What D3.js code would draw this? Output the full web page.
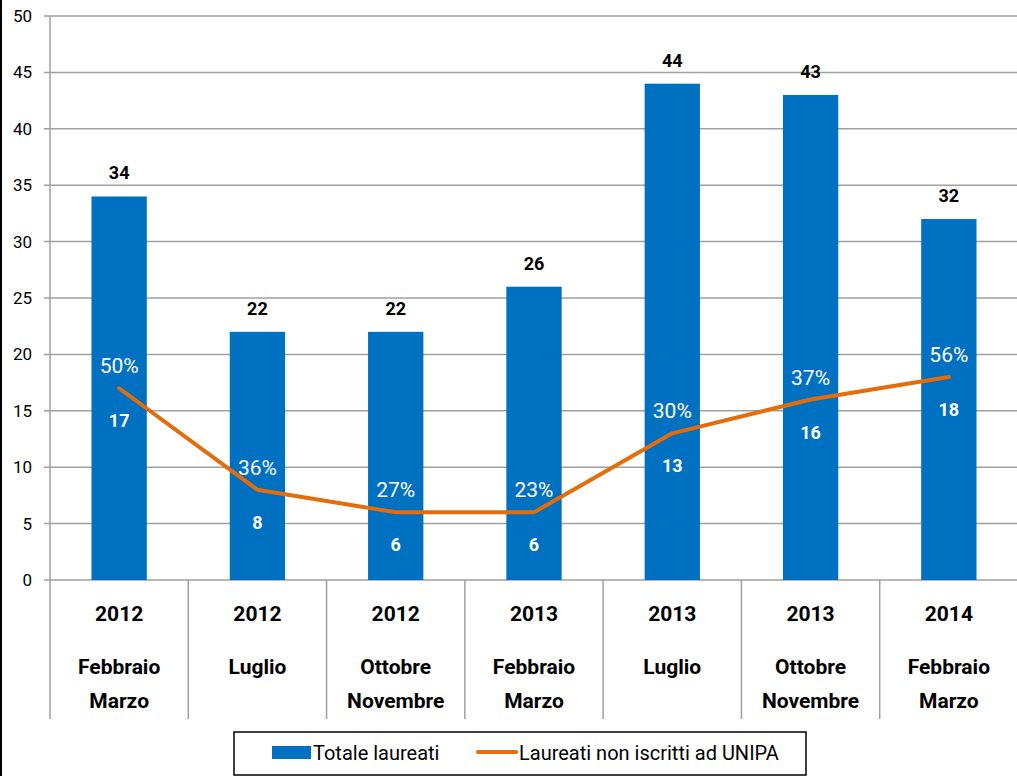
<!DOCTYPE html>
<html>
<head>
<meta charset="utf-8">
<script src="https://cdn.jsdelivr.net/npm/d3@7"></script>
<style>
  body { margin: 0; background: #fff; }
  svg text { font-family: Roboto, "Open Sans", sans-serif; }
</style>
</head>
<body>
<svg id="chart" width="1017" height="776"></svg>
<script>
// data
var years = ["2012", "2012", "2012", "2013", "2013", "2013", "2014"];
var periods = [["Febbraio", "Marzo"], ["Luglio"], ["Ottobre", "Novembre"], ["Febbraio", "Marzo"],
               ["Luglio"], ["Ottobre", "Novembre"], ["Febbraio", "Marzo"]];
var totale = [34, 22, 22, 26, 44, 43, 32];
var nonIscritti = [17, 8, 6, 6, 13, 16, 18];
var percent = ["50%", "36%", "27%", "23%", "30%", "37%", "56%"];
var yTicks = [0, 5, 10, 15, 20, 25, 30, 35, 40, 45, 50];

var blue = "#0070C0", orange = "#E46C0A", grid = "#A0A0A0";
var svg = d3.select("#chart");
var idx = d3.range(totale.length);

var x = d3.scaleBand().domain(idx).range([50, 1018]).paddingInner(0.6).paddingOuter(0.3);
var xb = d3.scaleBand().domain(idx).range([50, 1018]);
var y = d3.scaleLinear().domain([0, 50]).range([580, 16]);

// left border of the chart frame
svg.append("line").attr("x1", 1).attr("x2", 1).attr("y1", 0).attr("y2", 776)
   .attr("stroke", "#000").attr("stroke-width", 2);

// horizontal grid + y labels
svg.selectAll(".grid").data(yTicks).enter().append("line")
   .attr("x1", 44).attr("x2", 1017)
   .attr("y1", function(d) { return y(d); }).attr("y2", function(d) { return y(d); })
   .attr("stroke", grid).attr("stroke-width", 1.5);

svg.selectAll(".ylab").data(yTicks).enter().append("text")
   .attr("x", 32).attr("y", function(d) { return y(d); }).attr("dy", "0.35em")
   .attr("text-anchor", "end").attr("font-size", 17).attr("fill", "#000")
   .text(function(d) { return d; });

// axis line and category separators
svg.append("line").attr("x1", 50).attr("x2", 50).attr("y1", 16).attr("y2", 719)
   .attr("stroke", grid).attr("stroke-width", 1.5);
svg.selectAll(".sep").data(idx.slice(1)).enter().append("line")
   .attr("x1", function(d) { return xb(d); }).attr("x2", function(d) { return xb(d); })
   .attr("y1", 580).attr("y2", 719)
   .attr("stroke", grid).attr("stroke-width", 1.5);

// bars
svg.selectAll(".bar").data(totale).enter().append("rect")
   .attr("x", function(d, i) { return x(i); })
   .attr("width", x.bandwidth())
   .attr("y", function(d) { return y(d); })
   .attr("height", function(d) { return y(0) - y(d); })
   .attr("fill", blue);

svg.selectAll(".barlab").data(totale).enter().append("text")
   .attr("x", function(d, i) { return x(i) + x.bandwidth() / 2; })
   .attr("y", function(d) { return y(d) - 17; })
   .attr("text-anchor", "middle").attr("font-size", 18).attr("font-weight", "bold")
   .text(function(d) { return d; });

// line
var cx = function(i) { return xb(i) + xb.bandwidth() / 2; };
var line = d3.line().x(function(d, i) { return cx(i); }).y(function(d) { return y(d); });
svg.append("path").datum(nonIscritti).attr("d", line)
   .attr("fill", "none").attr("stroke", orange).attr("stroke-width", 4)
   .attr("stroke-linecap", "round").attr("stroke-linejoin", "round");

svg.selectAll(".pct").data(percent).enter().append("text")
   .attr("x", function(d, i) { return cx(i); })
   .attr("y", function(d, i) { return y(nonIscritti[i]) - 15; })
   .attr("text-anchor", "middle").attr("font-size", 21).attr("fill", "#fff")
   .text(function(d) { return d; });

svg.selectAll(".cnt").data(nonIscritti).enter().append("text")
   .attr("x", function(d, i) { return cx(i); })
   .attr("y", function(d) { return y(d) + 39; })
   .attr("text-anchor", "middle").attr("font-size", 18).attr("font-weight", "bold").attr("fill", "#fff")
   .text(function(d) { return d; });

// category labels
var cat = svg.selectAll(".cat").data(idx).enter().append("g")
   .attr("transform", function(i) { return "translate(" + cx(i) + ",0)"; });
cat.append("text").attr("y", 614).attr("dy", "0.35em")
   .attr("text-anchor", "middle").attr("font-size", 21).attr("font-weight", "bold")
   .text(function(i) { return years[i]; });
cat.each(function(i) {
  var g = d3.select(this);
  periods[i].forEach(function(p, k) {
    g.append("text").attr("y", 667 + k * 34).attr("dy", "0.35em")
     .attr("text-anchor", "middle").attr("font-size", 21).attr("font-weight", "bold")
     .text(p);
  });
});

// legend
var leg = svg.append("g");
leg.append("rect").attr("x", 234).attr("y", 732).attr("width", 572).attr("height", 43)
   .attr("fill", "#fff").attr("stroke", "#000").attr("stroke-width", 1.5);
leg.append("rect").attr("x", 272).attr("y", 746).attr("width", 39).attr("height", 13).attr("fill", blue);
leg.append("text").attr("x", 313).attr("y", 753).attr("dy", "0.35em").attr("font-size", 20)
   .text("Totale laureati");
leg.append("line").attr("x1", 478).attr("x2", 516).attr("y1", 752).attr("y2", 752)
   .attr("stroke", orange).attr("stroke-width", 4).attr("stroke-linecap", "round");
leg.append("text").attr("x", 519).attr("y", 753).attr("dy", "0.35em").attr("font-size", 20)
   .text("Laureati non iscritti ad UNIPA");
</script>
</body>
</html>
